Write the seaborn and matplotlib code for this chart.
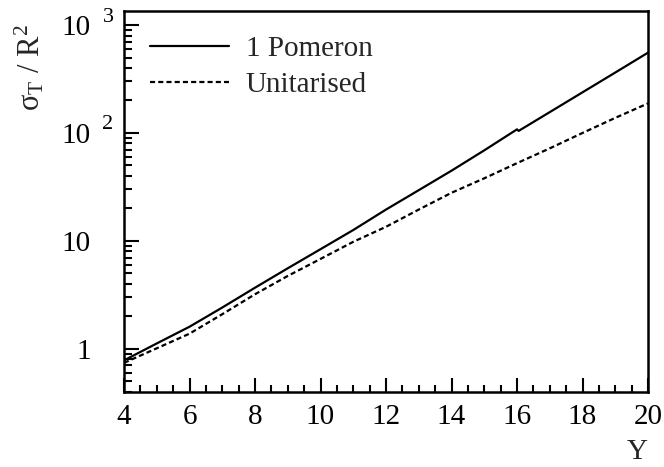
import matplotlib
matplotlib.use("Agg")
import matplotlib.pyplot as plt
import matplotlib.transforms as mtransforms
from matplotlib.ticker import MultipleLocator, LogLocator, FixedLocator, FixedFormatter, NullFormatter
import seaborn as sns
import pandas as pd

# Rapidity values and total cross sections (in units of R^2)
pomeron_Y = [4, 5, 6, 7, 8, 9, 10, 11, 12, 13, 14, 15, 16, 16.05, 17, 18, 19, 20]
pomeron_sigma = [0.78, 1.12, 1.60, 2.41, 3.68, 5.57, 8.37, 12.6, 19.5, 29.5,
                 44.7, 69, 108, 104.5, 156, 238, 363, 555]

unitarised_Y = [4, 5, 6, 7, 8, 9, 10, 11, 12, 13, 14, 15, 16, 17, 18, 19, 20]
unitarised_sigma = [0.74, 1.01, 1.38, 2.09, 3.2, 4.73, 6.8, 9.8, 13.5, 19.5,
                    27.9, 38, 52.5, 72, 100, 138, 188]

series_labels = ["1 Pomeron", "Unitarised"]
x_ticks = [4, 6, 8, 10, 12, 14, 16, 18, 20]
y_ticks = [1, 10, 100, 1000]
y_tick_labels = ["1", "10", "10", "10"]
y_tick_exponents = {100: "2", 1000: "3"}

sns.set_style("ticks")
plt.rcParams["font.family"] = ["Liberation Serif", "DejaVu Serif"]
plt.rcParams["mathtext.fontset"] = "custom"
plt.rcParams["mathtext.rm"] = "Liberation Serif"
plt.rcParams["mathtext.it"] = "Liberation Serif"
plt.rcParams["mathtext.default"] = "regular"

FS = 21

fig = plt.figure(figsize=(6.64, 4.67), dpi=100)
ax = fig.add_axes([124 / 664, 1 - 391.7 / 467, 524 / 664, (391.7 - 11) / 467])

df_p = pd.DataFrame({"Y": pomeron_Y, "sigma": pomeron_sigma})
df_u = pd.DataFrame({"Y": unitarised_Y, "sigma": unitarised_sigma})

sns.lineplot(data=df_p, x="Y", y="sigma", ax=ax, color="black", lw=1.6,
             label=series_labels[0], sort=False)
sns.lineplot(data=df_u, x="Y", y="sigma", ax=ax, color="black", lw=1.6,
             linestyle=(0, (2.3, 1.4)), label=series_labels[1], sort=False)

ax.set_yscale("log")
ax.set_xlim(4, 20)
ax.set_ylim(0.40, 1350)

# x axis ticks
ax.xaxis.set_major_locator(FixedLocator(x_ticks))
ax.xaxis.set_minor_locator(MultipleLocator(0.5))

# y axis ticks with superscript exponents drawn beside the mantissa
ax.yaxis.set_major_locator(FixedLocator(y_ticks))
ax.yaxis.set_major_formatter(FixedFormatter(y_tick_labels))
ax.yaxis.set_minor_locator(LogLocator(base=10, subs=range(2, 10)))
ax.yaxis.set_minor_formatter(NullFormatter())

ax.tick_params(which="both", direction="in", top=False, right=False,
               labelsize=FS, width=1.5, color="black", labelcolor="black")
ax.tick_params(axis="x", which="major", length=10, pad=9)
ax.tick_params(axis="x", which="minor", length=5)
ax.tick_params(axis="y", which="major", length=11, pad=24)
ax.tick_params(axis="y", which="minor", length=6)

for s in ax.spines.values():
    s.set_linewidth(1.8)
    s.set_color("black")
    s.set_visible(True)

trans = mtransforms.blended_transform_factory(ax.transAxes, ax.transData)
for val, exp in y_tick_exponents.items():
    ax.annotate(exp, xy=(0, val), xycoords=trans, xytext=(-16, 8),
                textcoords="offset pixels", ha="center", va="center",
                fontsize=16, color="black")

ax.set_xlabel("Y", fontsize=FS, loc="right", labelpad=6)
ax.set_ylabel(r"$\sigma_{T}\ /\ R^{2}$", fontsize=22, loc="top")
ax.yaxis.set_label_coords(-0.147, 0.965)

leg = ax.legend(loc="upper left", bbox_to_anchor=(0.0496, 0.935), frameon=False,
                fontsize=FS, handlelength=2.7, handletextpad=0.58,
                borderpad=0, borderaxespad=0, labelspacing=0.32)

fig.savefig("out.png", dpi=100)
